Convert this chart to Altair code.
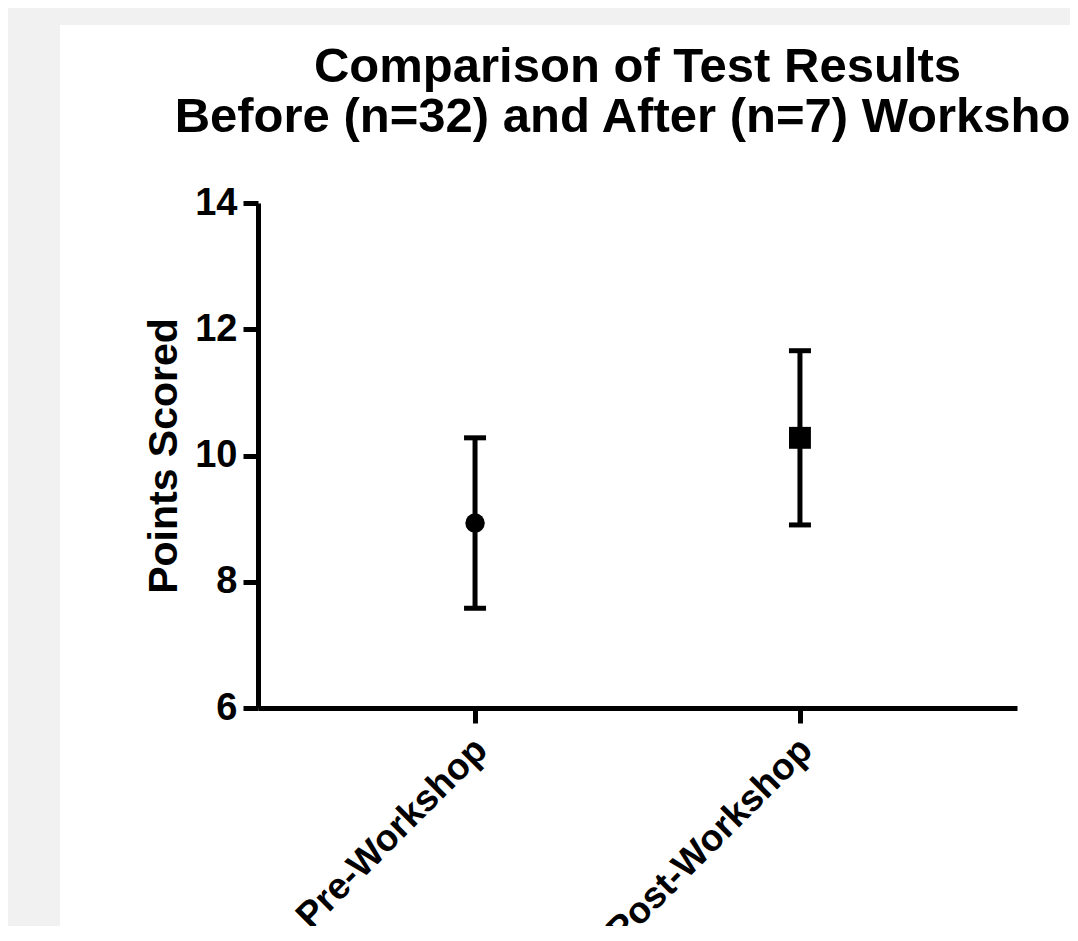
import altair as alt
import pandas as pd

groups = ["Pre-Workshop", "Post-Workshop"]
means = [8.93, 10.28]
lower = [7.58, 8.90]
upper = [10.28, 11.66]
y_ticks = [6, 8, 10, 12, 14]
title_lines = ["Comparison of Test Results", "Before (n=32) and After (n=7) Workshop"]

df = pd.DataFrame({"group": groups, "mean": means, "lower": lower, "upper": upper})

FONT = "Liberation Sans"

xenc = alt.X(
    "group:N",
    sort=groups,
    scale=alt.Scale(type="point", padding=0.668),
    axis=alt.Axis(
        title=None,
        zindex=1,
        labelAngle=-45,
        labelAlign="right",
        labelBaseline="middle",
        labelOffset=6,
        labelPadding=21,
        labelLimit=0,
        labelFont=FONT,
        labelFontSize=37,
        labelFontWeight="bold",
        labelColor="black",
        domainColor="black",
        domainWidth=5,
        tickColor="black",
        tickWidth=5,
        tickSize=15,
        grid=False,
    ),
)

yscale = alt.Scale(domain=[6, 14], nice=False, zero=False)
yaxis = alt.Axis(
    values=y_ticks,
    zindex=1,
    title="Points Scored",
    titleFont=FONT,
    titleFontSize=41,
    titleFontWeight="bold",
    titleColor="black",
    titlePadding=9,
    labelFont=FONT,
    labelFontSize=38,
    labelFontWeight="bold",
    labelColor="black",
    labelPadding=6,
    domainColor="black",
    domainWidth=5,
    tickColor="black",
    tickWidth=5,
    tickSize=15,
    grid=False,
)

one = alt.Data(values=[{"a": 1}])

panel = alt.Chart(one).mark_rect(color="white").encode(
    x=alt.value(-198), x2=alt.value(1000), y=alt.value(-178), y2=alt.value(1000)
)

title1 = alt.Chart(one).mark_text(
    text=title_lines[0], font=FONT, fontSize=49, fontWeight="bold", color="black",
    align="center", baseline="alphabetic",
).encode(x=alt.value(379.5), y=alt.value(-121))
title2 = alt.Chart(one).mark_text(
    text=title_lines[1], font=FONT, fontSize=49, fontWeight="bold", color="black",
    align="center", baseline="alphabetic",
).encode(x=alt.value(379.5), y=alt.value(-71))

base = alt.Chart(df)

rules = base.mark_rule(color="black", strokeWidth=5).encode(
    x=xenc,
    y=alt.Y("lower:Q", scale=yscale, axis=yaxis),
    y2="upper:Q",
)
cap_hi = base.mark_tick(color="black", thickness=5, size=22, opacity=1, orient="horizontal").encode(
    x=xenc, y=alt.Y("upper:Q", scale=yscale, axis=yaxis)
)
cap_lo = base.mark_tick(color="black", thickness=5, size=22, opacity=1, orient="horizontal").encode(
    x=xenc, y=alt.Y("lower:Q", scale=yscale, axis=yaxis)
)
points = base.mark_point(filled=True, color="black", opacity=1).encode(
    x=xenc,
    y=alt.Y("mean:Q", scale=yscale, axis=yaxis),
    shape=alt.Shape("group:N", scale=alt.Scale(domain=groups, range=["circle", "square"]), legend=None),
    size=alt.Size("group:N", scale=alt.Scale(domain=groups, range=[380, 480]), legend=None),
)

chart = (
    alt.layer(panel, title1, title2, rules, cap_hi, cap_lo, points)
    .properties(
        width=759,
        height=505,
        padding={"left": 250, "top": 195, "right": 53, "bottom": 218},
        autosize=alt.AutoSizeParams(type="none"),
        background="#f1f1f1",
    )
    .configure_view(stroke=None)
)

chart.save("out.html", embed_options={"renderer": "svg", "actions": False})
